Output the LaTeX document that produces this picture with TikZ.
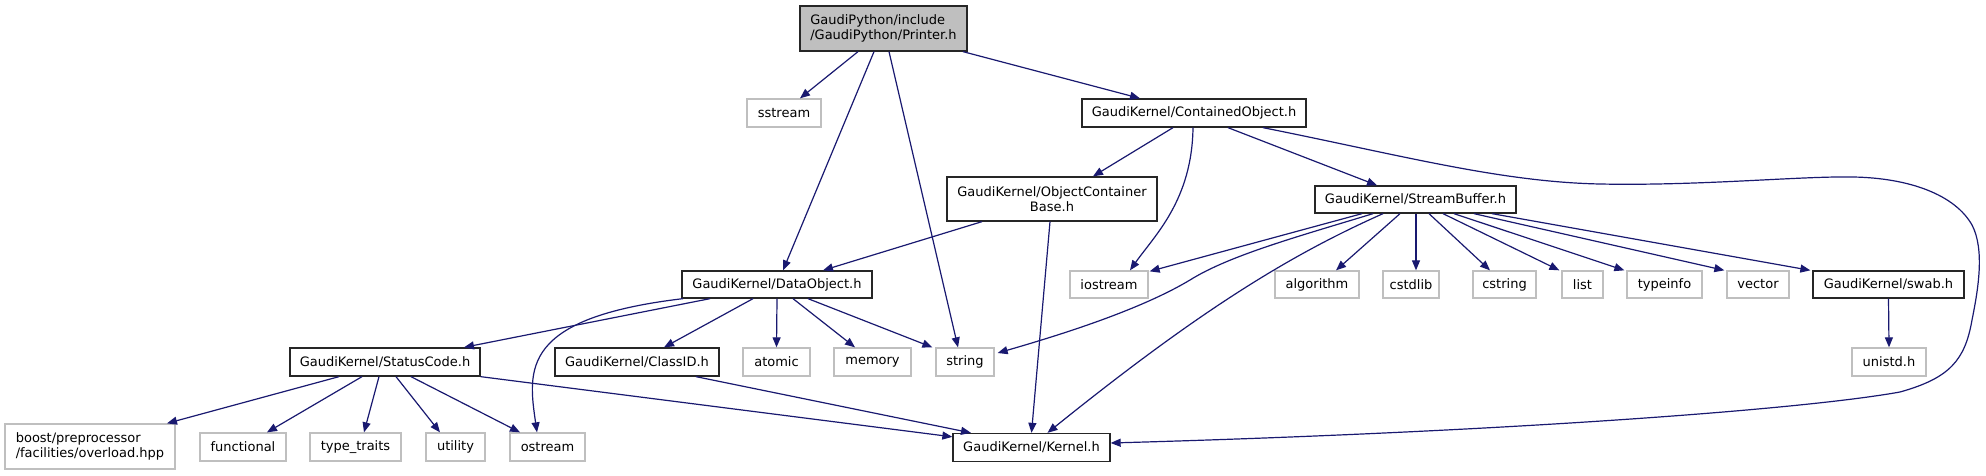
\documentclass[tikz,border=0pt]{standalone}
\usepackage{fontspec}
\setmainfont{DejaVu Sans}
\usetikzlibrary{arrows.meta,calc}
\definecolor{edgecol}{HTML}{191970}
\definecolor{extgray}{HTML}{BFBFBF}
\begin{document}
\begin{tikzpicture}[x=1pt,y=-1pt,
  base/.style={rectangle, inner sep=0pt, line width=1.3pt, font=\fontsize{13}{15.5}\selectfont, text=black},
  docnode/.style={base, draw=black!85, fill=white},
  extnode/.style={base, draw=extgray, fill=white},
  sl/.style={minimum height=28pt},
  edge/.style={draw=edgecol, line width=1.2pt, -{Triangle[length=10pt,width=8pt]}}]
\path[fill=white] (0,0) rectangle (1986,476);
% row 0
\node[docnode, fill=extgray, minimum width=167pt, minimum height=45pt, align=left] (printer) at (883.5,28.5) {GaudiPython/include\\/GaudiPython/Printer.h};
% row 1
\node[extnode, sl, minimum width=74pt] (sstream) at (784,113) {sstream};
\node[docnode, sl, minimum width=224pt] (contained) at (1194,113) {GaudiKernel/ContainedObject.h};
% row 2
\node[docnode, minimum width=210pt, minimum height=44pt, align=center] (ocb) at (1052,199) {GaudiKernel/ObjectContainer\\Base.h};
\node[docnode, minimum width=201pt, minimum height=27pt] (streambuf) at (1415.5,199.5) {GaudiKernel/StreamBuffer.h};
% row 3
\node[docnode, minimum height=27pt, minimum width=190pt] (dataobj) at (777,284.5) {GaudiKernel/DataObject.h};
\node[extnode, minimum height=27pt, minimum width=78pt] (iostream) at (1109,284.5) {iostream};
\node[extnode, minimum height=27pt, minimum width=84pt] (algorithm) at (1317,284.5) {algorithm};
\node[extnode, minimum height=27pt, minimum width=56pt] (cstdlib) at (1411,284.5) {cstdlib};
\node[extnode, minimum height=27pt, minimum width=63pt] (cstring) at (1504.5,284.5) {cstring};
\node[extnode, minimum height=27pt, minimum width=41pt] (list) at (1582.5,284.5) {list};
\node[extnode, minimum height=27pt, minimum width=75pt] (typeinfo) at (1664.5,284.5) {typeinfo};
\node[extnode, minimum height=27pt, minimum width=62pt] (vector) at (1758,284.5) {vector};
\node[docnode, minimum height=27pt, minimum width=151pt] (swab) at (1888.5,284.5) {GaudiKernel/swab.h};
% row 4
\node[docnode, sl, minimum width=190pt] (status) at (385,362) {GaudiKernel/StatusCode.h};
\node[docnode, sl, minimum width=164pt] (classid) at (637,362) {GaudiKernel/ClassID.h};
\node[extnode, sl, minimum width=67pt] (atomic) at (776.5,362) {atomic};
\node[extnode, sl, minimum width=77pt] (memory) at (872.5,362) {memory};
\node[extnode, sl, minimum width=58pt] (string) at (965,362) {string};
\node[extnode, sl, minimum width=74pt] (unistd) at (1889,362) {unistd.h};
% row 5
\node[extnode, minimum width=170pt, minimum height=45pt, align=left] (boost) at (90,446.5) {boost/preprocessor\\/facilities/overload.hpp};
\node[extnode, sl, minimum width=86pt] (functional) at (243,447) {functional};
\node[extnode, sl, minimum width=91pt] (typetraits) at (355.5,447) {type\_traits};
\node[extnode, sl, minimum width=59pt] (utility) at (455.5,447) {utility};
\node[extnode, sl, minimum width=75pt] (ostream) at (547.5,447) {ostream};
\node[docnode, sl, minimum width=157pt] (kernel) at (1031.5,447.5) {GaudiKernel/Kernel.h};

% Printer edges
\draw[edge] ($(printer.south)+(-25.5,0)$) -- ($(sstream.north)+(16,0)$);
\draw[edge] ($(printer.south)+(-9.5,0)$) -- ($(dataobj.north)+(6,0)$);
\draw[edge] ($(printer.south)+(5.5,0)$) -- ($(string.north)+(-7,0)$);
\draw[edge] ($(printer.south)+(79.5,0)$) -- ($(contained.north)+(-54,0)$);
% ContainedObject edges
\draw[edge] ($(contained.south)+(-21,0)$) -- ($(ocb.north)+(41,0)$);
\draw[edge] ($(contained.south)+(-1,0)$) .. controls (1192,200) and (1155,235) .. ($(iostream.north)+(21,0)$);
\draw[edge] ($(contained.south)+(34,0)$) -- ($(streambuf.north)+(-38.5,0)$);
\draw[edge] ($(contained.south)+(69,0)$) .. controls (1400,155) and (1500,182) .. (1600,184)
  .. controls (1700,186) and (1800,176) .. (1853,177)
  .. controls (1910,178) and (1955,195) .. (1972,225)
  .. controls (1985,250) and (1978,290) .. (1972,320)
  .. controls (1965,360) and (1950,378) .. (1900,392)
  .. controls (1800,410) and (1500,432) .. ($(kernel.east)+(0,-4.5)$);
% ObjectContainerBase edges
\draw[edge] ($(ocb.south)+(-70,0)$) -- ($(dataobj.north)+(46,0)$);
\draw[edge] ($(ocb.south)+(-2,0)$) -- (kernel.north);
% StreamBuffer edges
\draw[edge] ($(streambuf.south)+(-53.5,0)$) -- ($(iostream.north east)+(1,1)$);
\draw[edge] ($(streambuf.south)+(-42.5,0)$) .. controls (1300,236) and (1230,255) .. (1190,280) .. controls (1140,310) and (1060,335) .. ($(string.east)+(3,-9)$);
\draw[edge] ($(streambuf.south)+(-32.5,0)$) .. controls (1290,255) and (1200,310) .. ($(kernel.north)+(16,0)$);
\draw[edge] ($(streambuf.south)+(-15.5,0)$) -- ($(algorithm.north)+(19,0)$);
\draw[edge] ($(streambuf.south)+(0.5,0)$) -- ($(cstdlib.north)+(5,0)$);
\draw[edge] ($(streambuf.south)+(13.5,0)$) -- ($(cstring.north)+(-14.5,0)$);
\draw[edge] ($(streambuf.south)+(27.5,0)$) -- ($(list.north west)+(-2,0)$);
\draw[edge] ($(streambuf.south)+(38.5,0)$) -- ($(typeinfo.north west)+(-2,0)$);
\draw[edge] ($(streambuf.south)+(58.5,0)$) -- ($(vector.north west)+(-2,0)$);
\draw[edge] ($(streambuf.south)+(76.5,0)$) -- ($(swab.north west)+(-2,0)$);
% swab
\draw[edge] (swab.south) -- (unistd.north);
% DataObject edges
\draw[edge] ($(dataobj.south)+(-67,0)$) -- ($(status.north)+(79,0)$);
\draw[edge] ($(dataobj.south)+(-94,0)$) .. controls (520,318) and (528,370) .. ($(ostream.north)+(-10.5,0)$);
\draw[edge] ($(dataobj.south)+(-24,0)$) -- ($(classid.north)+(27,0)$);
\draw[edge] (dataobj.south) -- (atomic.north);
\draw[edge] ($(dataobj.south)+(16,0)$) -- ($(memory.north)+(-17.5,0)$);
\draw[edge] ($(dataobj.south)+(31,0)$) -- ($(string.north west)+(-3,0)$);
% StatusCode edges
\draw[edge] ($(status.south)+(-46,0)$) -- ($(boost.north)+(77,0)$);
\draw[edge] ($(status.south)+(-23,0)$) -- ($(functional.north)+(24,0)$);
\draw[edge] ($(status.south)+(-6,0)$) -- ($(typetraits.north)+(8.5,0)$);
\draw[edge] ($(status.south)+(11,0)$) -- ($(utility.north)+(-15.5,0)$);
\draw[edge] ($(status.south)+(26,0)$) -- ($(ostream.north)+(-27.5,0)$);
\draw[edge] (status.south east) -- ($(kernel.north west)+(0,4)$);
% ClassID
\draw[edge] ($(classid.south)+(59,0)$) -- ($(kernel.north)+(-60.5,0)$);
\end{tikzpicture}
\end{document}
